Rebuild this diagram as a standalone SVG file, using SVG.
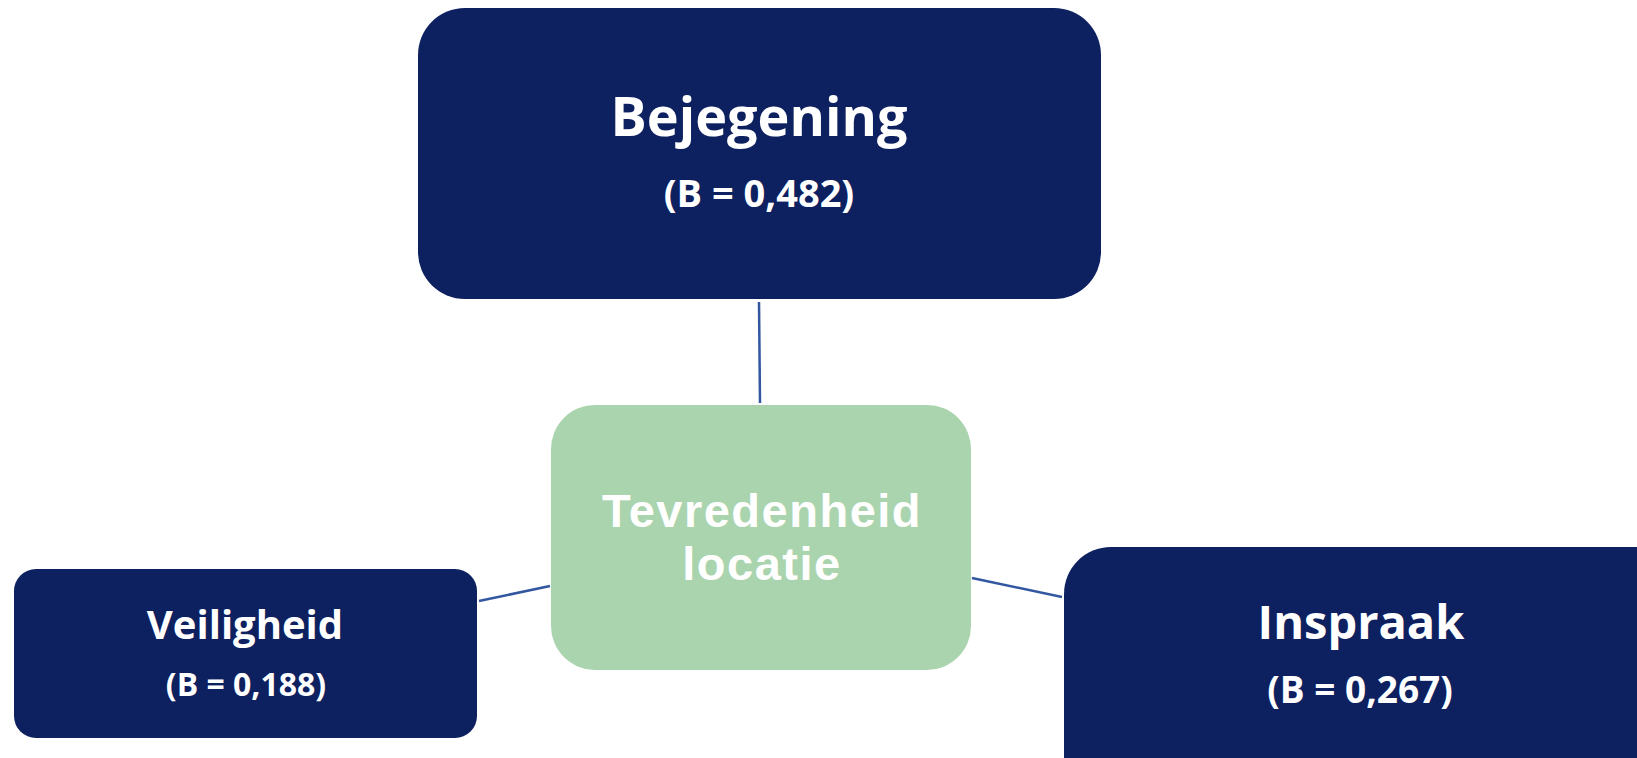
<svg xmlns="http://www.w3.org/2000/svg" width="1637" height="758" viewBox="0 0 1637 758">
<style>
.dark{fill:#0d2060}
.green{fill:#aad4ae}
.t{fill:#ffffff;font-family:"Open Sans","Liberation Sans",sans-serif;font-weight:700;text-anchor:middle}
.g{fill:#ffffff;font-family:"Liberation Sans",Arial,sans-serif;font-weight:700;text-anchor:middle;letter-spacing:1.5px}
.c{stroke:#3257a0;stroke-width:2.5;fill:none}
</style>
<rect width="1637" height="758" fill="#ffffff"/>
<g id="connectors">
<line class="c" x1="759" y1="302" x2="760" y2="403"/>
<line class="c" x1="479" y1="601" x2="550" y2="586"/>
<line class="c" x1="972" y1="578" x2="1062" y2="597"/>
</g>
<g id="bejegening">
<rect class="dark" x="418" y="8" width="683" height="291" rx="47" ry="47"/>
<text class="t" x="759" y="136" font-size="54">Bejegening</text>
<text class="t" x="759" y="207" font-size="38">(B = 0,482)</text>
</g>
<g id="tevredenheid">
<rect class="green" x="551" y="405" width="420" height="265" rx="44" ry="44"/>
<text class="g" x="762" y="527" font-size="47">Tevredenheid</text>
<text class="g" x="762" y="580" font-size="47">locatie</text>
</g>
<g id="veiligheid">
<rect class="dark" x="14" y="569" width="463" height="169" rx="22" ry="22"/>
<text class="t" x="245" y="639" font-size="40">Veiligheid</text>
<text class="t" x="246" y="696" font-size="32">(B = 0,188)</text>
</g>
<g id="inspraak">
<rect class="dark" x="1064" y="547" width="620" height="260" rx="47" ry="47"/>
<text class="t" x="1361" y="639" font-size="47">Inspraak</text>
<text class="t" x="1360" y="703" font-size="37">(B = 0,267)</text>
</g>
</svg>
